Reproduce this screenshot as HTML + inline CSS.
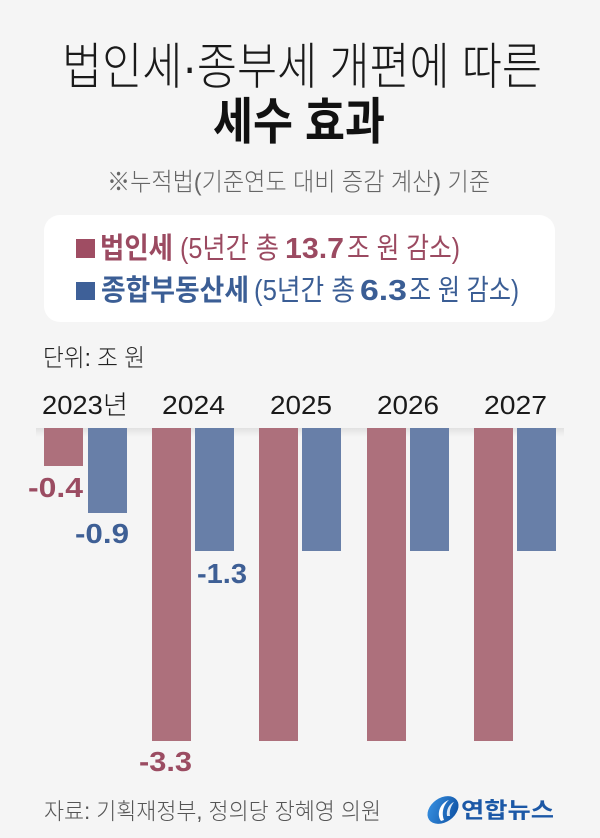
<!DOCTYPE html>
<html>
<head>
<meta charset="utf-8">
<style>
  html,body{margin:0;padding:0;background:#f5f5f5;}
  svg{display:block;}
  text{font-family:"Liberation Sans","Noto Sans CJK KR",sans-serif;}
</style>
</head>
<body>
<svg width="600" height="838" viewBox="0 0 600 838" xmlns="http://www.w3.org/2000/svg">
  <defs>
    <linearGradient id="sh" x1="0" y1="0" x2="0" y2="1">
      <stop offset="0" stop-color="#000" stop-opacity="0.08"/>
      <stop offset="1" stop-color="#000" stop-opacity="0"/>
    </linearGradient>
    <linearGradient id="lg" x1="0" y1="0" x2="1" y2="1">
      <stop offset="0" stop-color="#3a95e6"/>
      <stop offset="1" stop-color="#0b4c9e"/>
    </linearGradient>
  </defs>
  <rect x="0" y="0" width="600" height="838" fill="#f5f5f5"/>

  <!-- Title -->
  <text x="62" y="84" font-size="50" font-weight="300" fill="#1a1a1a" textLength="480" lengthAdjust="spacingAndGlyphs">법인세·종부세 개편에 따른</text>
  <text x="213" y="139" font-size="50" font-weight="700" fill="#111" textLength="172" lengthAdjust="spacingAndGlyphs">세수 효과</text>
  <text x="107" y="190.5" font-size="25" font-weight="300" fill="#666" textLength="383" lengthAdjust="spacingAndGlyphs">※누적법(기준연도 대비 증감 계산) 기준</text>

  <!-- Legend box -->
  <rect x="44" y="215" width="511" height="107" rx="16" ry="16" fill="#ffffff"/>
  <rect x="76" y="239" width="19" height="19" fill="#9f4d63"/>
  <rect x="76" y="282" width="19" height="18" fill="#3e6098"/>

  <text x="100" y="258" font-size="29" font-weight="700" fill="#9b4a61" textLength="73" lengthAdjust="spacingAndGlyphs">법인세</text>
  <text x="180" y="258" font-size="29" font-weight="400" fill="#9b4a61" textLength="99" lengthAdjust="spacingAndGlyphs">(5년간 총</text>
  <text x="285" y="258" font-size="29" font-weight="700" fill="#9b4a61" textLength="59" lengthAdjust="spacingAndGlyphs">13.7</text>
  <text x="347" y="258" font-size="29" font-weight="400" fill="#9b4a61" textLength="113" lengthAdjust="spacingAndGlyphs">조 원 감소)</text>

  <text x="101" y="300" font-size="29" font-weight="700" fill="#3b5e95" textLength="148" lengthAdjust="spacingAndGlyphs">종합부동산세</text>
  <text x="254" y="300" font-size="29" font-weight="400" fill="#3b5e95" textLength="101" lengthAdjust="spacingAndGlyphs">(5년간 총</text>
  <text x="360" y="300" font-size="29" font-weight="700" fill="#3b5e95" textLength="47" lengthAdjust="spacingAndGlyphs">6.3</text>
  <text x="409" y="300" font-size="29" font-weight="400" fill="#3b5e95" textLength="110" lengthAdjust="spacingAndGlyphs">조 원 감소)</text>

  <!-- Unit -->
  <text x="43" y="366" font-size="24" font-weight="300" fill="#222" textLength="102" lengthAdjust="spacingAndGlyphs">단위: 조 원</text>

  <!-- Year labels -->
  <text x="42" y="414" font-size="26" font-weight="300" fill="#1a1a1a" textLength="86" lengthAdjust="spacingAndGlyphs">2023년</text>
  <text x="162" y="414" font-size="26" font-weight="300" fill="#1a1a1a" textLength="63" lengthAdjust="spacingAndGlyphs">2024</text>
  <text x="270" y="414" font-size="26" font-weight="300" fill="#1a1a1a" textLength="62" lengthAdjust="spacingAndGlyphs">2025</text>
  <text x="377" y="414" font-size="26" font-weight="300" fill="#1a1a1a" textLength="62" lengthAdjust="spacingAndGlyphs">2026</text>
  <text x="484" y="414" font-size="26" font-weight="300" fill="#1a1a1a" textLength="63" lengthAdjust="spacingAndGlyphs">2027</text>

  <!-- shadow band -->
  <rect x="36" y="428" width="528" height="9" fill="url(#sh)"/>

  <!-- Bars -->
  <rect x="44" y="428" width="39" height="38" fill="#ad707c"/>
  <rect x="88" y="428" width="39" height="85" fill="#687fa8"/>
  <rect x="152" y="428" width="39" height="313" fill="#ad707c"/>
  <rect x="195" y="428" width="39" height="123" fill="#687fa8"/>
  <rect x="259" y="428" width="39" height="313" fill="#ad707c"/>
  <rect x="302" y="428" width="39" height="123" fill="#687fa8"/>
  <rect x="367" y="428" width="39" height="313" fill="#ad707c"/>
  <rect x="410" y="428" width="39" height="123" fill="#687fa8"/>
  <rect x="474" y="428" width="39" height="313" fill="#ad707c"/>
  <rect x="517" y="428" width="39" height="123" fill="#687fa8"/>

  <!-- Value labels -->
  <text x="28" y="497" font-size="28" font-weight="700" fill="#9b4c62" textLength="55" lengthAdjust="spacingAndGlyphs">-0.4</text>
  <text x="75" y="543" font-size="28" font-weight="700" fill="#3e5f95" textLength="54" lengthAdjust="spacingAndGlyphs">-0.9</text>
  <text x="197" y="583" font-size="28" font-weight="700" fill="#3e5f95" textLength="50" lengthAdjust="spacingAndGlyphs">-1.3</text>
  <text x="139" y="771" font-size="28" font-weight="700" fill="#9b4c62" textLength="53" lengthAdjust="spacingAndGlyphs">-3.3</text>

  <!-- Footer -->
  <text x="44" y="819" font-size="23" font-weight="300" fill="#555" textLength="337" lengthAdjust="spacingAndGlyphs">자료: 기획재정부, 정의당 장혜영 의원</text>

  <!-- Logo -->
  <g transform="translate(443,810) rotate(-35)">
    <ellipse cx="0" cy="0" rx="17" ry="12" fill="url(#lg)"/>
  </g>
  <path d="M441,821 C436,814 440,803 449,800 C444,804 441,812 444,820 Z" fill="#ffffff"/>
  <path d="M447,816 C446,810 449,804 454,802 C451,806 449,811 450,816 Z" fill="#ffffff" opacity="0.85"/>
  <text x="461" y="818" font-size="22" font-weight="700" fill="#1c58a6" textLength="93" lengthAdjust="spacingAndGlyphs">연합뉴스</text>
</svg>
</body>
</html>
